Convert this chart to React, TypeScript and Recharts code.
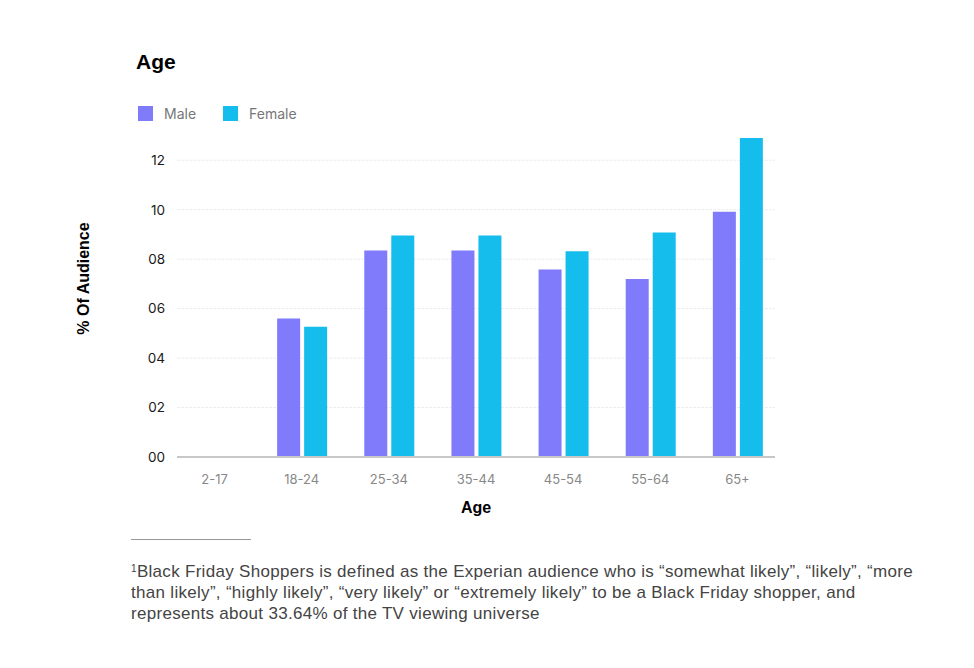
import React from "react";
import { BarChart, Bar, XAxis, YAxis, CartesianGrid, Legend, Label } from "recharts";

const categories = ["2-17", "18-24", "25-34", "35-44", "45-54", "55-64", "65+"];
const maleValues = [0, 5.6, 8.35, 8.35, 7.58, 7.2, 9.92];
const femaleValues = [0, 5.27, 8.96, 8.96, 8.32, 9.08, 12.9];
const yTicks = [0, 2, 4, 6, 8, 10, 12];
const seriesNames = ["Male", "Female"];

const data = categories.map((c, i) => ({ age: c, Male: maleValues[i], Female: femaleValues[i] }));

const MALE = "#7f7bfa";
const FEMALE = "#14bdeb";
const seriesColors: Record<string, string> = { Male: MALE, Female: FEMALE };

const footLines = [
  "Black Friday Shoppers is defined as the Experian audience who is “somewhat likely”, “likely”, “more",
  "than likely”, “highly likely”, “very likely” or “extremely likely” to be a Black Friday shopper, and",
  "represents about 33.64% of the TV viewing universe",
];

function LegendContent() {
  return (
    <div style={{ display: "flex", alignItems: "center" }}>
      {seriesNames.map((n) => (
        <div key={n} style={{ display: "flex", alignItems: "center", marginRight: 27 }}>
          <div style={{ width: 15, height: 15, background: seriesColors[n] }} />
          <span
            style={{
              color: "#777",
              fontSize: 14,
              fontFamily: "Inter, 'Noto Sans', sans-serif",
              marginLeft: 11,
            }}
          >
            {n}
          </span>
        </div>
      ))}
    </div>
  );
}

export default function App() {
  return (
    <div style={{ position: "absolute", left: 0, top: 0, width: 974, height: 668, background: "#fff" }}>
      <div
        style={{
          position: "absolute",
          left: 136,
          top: 50,
          fontFamily: "'Liberation Sans', Arial, sans-serif",
          fontWeight: 700,
          fontSize: 21,
          color: "#000",
        }}
      >
        Age
      </div>
      <div style={{ position: "absolute", left: 0, top: 0 }}>
        <BarChart
          width={974}
          height={668}
          data={data}
          margin={{ top: 138, right: 199, bottom: 149, left: 117 }}
          barCategoryGap="21%"
          barGap={4}
        >
          <CartesianGrid vertical={false} horizontalValues={yTicks} stroke="#eeeeee" strokeDasharray="3 1" />
          <XAxis
            dataKey="age"
            height={62}
            padding={{ left: -6, right: -6 }}
            tickLine={false}
            axisLine={{ stroke: "#c8c8c8", strokeWidth: 2 }}
            tick={{ fill: "#888", fontSize: 13, fontFamily: "Inter, 'Noto Sans', sans-serif" }}
            tickMargin={12}
            interval={0}
          >
            <Label
              value="Age"
              position="insideBottom"
              offset={6}
              style={{ fill: "#000", fontSize: 16, fontWeight: 700, fontFamily: "'Liberation Sans', Arial, sans-serif" }}
            />
          </XAxis>
          <YAxis
            width={60}
            domain={[0, "dataMax"]}
            ticks={yTicks}
            tickLine={false}
            tickSize={0}
            tickMargin={12}
            axisLine={false}
            tickFormatter={(v: number) => String(v).padStart(2, "0")}
            tick={{ fill: "#1a1a1a", fontSize: 13.5, fontFamily: "Inter, 'Noto Sans', sans-serif" }}
          >
            <Label
              value="% Of Audience"
              angle={-90}
              position="insideLeft"
              offset={0}
              dx={-34}
              dy={-19}
              style={{ textAnchor: "middle", fill: "#000", fontSize: 16, fontWeight: 700, fontFamily: "'Liberation Sans', Arial, sans-serif" }}
            />
          </YAxis>
          <Legend
            verticalAlign="middle"
            align="center"
            layout="horizontal"
            content={<LegendContent />}
            wrapperStyle={{ position: "absolute", top: 105, left: 138, width: 300 }}
          />
          <Bar dataKey="Male" fill={MALE} barSize={23} isAnimationActive={false} />
          <Bar dataKey="Female" fill={FEMALE} barSize={23} isAnimationActive={false} />
        </BarChart>
      </div>
      <div style={{ position: "absolute", left: 131, top: 539, width: 120, height: 0, borderTop: "1.5px solid #999" }} />
      <div
        style={{
          position: "absolute",
          left: 131,
          top: 561,
          width: 840,
          fontFamily: "'Liberation Sans', Arial, sans-serif",
          fontSize: 17,
          letterSpacing: "0.3px",
          lineHeight: "21px",
          color: "#444",
          whiteSpace: "nowrap",
        }}
      >
        {footLines.map((l, i) => (
          <div key={i}>
            {i === 0 ? <span style={{ fontSize: 10, verticalAlign: "top", lineHeight: "16px" }}>1</span> : null}
            {l}
          </div>
        ))}
      </div>
    </div>
  );
}
